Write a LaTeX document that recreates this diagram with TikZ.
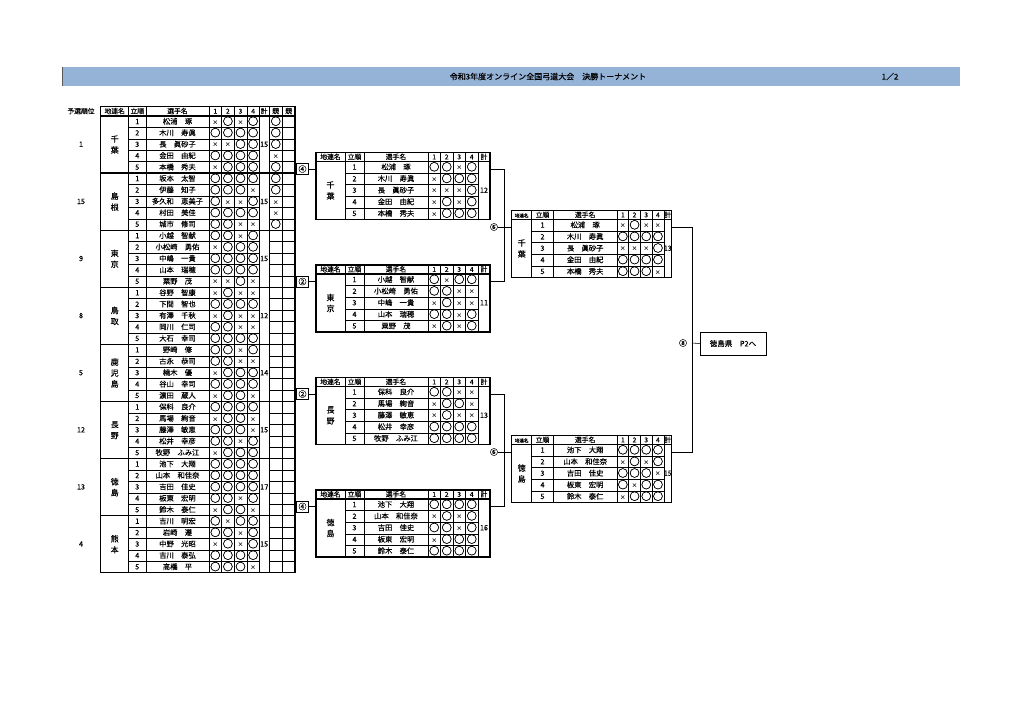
\documentclass[tikz,border=0pt]{standalone}
\usepackage{fontspec}
\setmainfont{Noto Sans CJK JP}[FakeBold=0.25]
\newfontfamily\markfont{Noto Sans CJK JP}[FakeBold=2]
\newfontfamily\latinfont{Liberation Sans}
\definecolor{barblue}{HTML}{95B3D7}
\newcommand\mx{{\latinfont\fontsize{8.5}{8}\selectfont ×}}
\newcommand\mo{{\markfont ○}}
\tikzset{
  thinl/.style={line width=0.5pt},
  midl/.style={line width=0.9pt},
  thickl/.style={line width=1.3pt},
  conn/.style={line width=0.6pt},
  txt/.style={inner sep=0pt, font=\fontsize{7.3}{8}\selectfont, text height=5.9pt, text depth=1.2pt},
  hdr/.style={inner sep=0pt, font=\fontsize{6.8}{8}\selectfont, text height=5.6pt, text depth=1.1pt},
  mk/.style={inner sep=0pt, font=\fontsize{10.3}{10}\selectfont, text height=7.9pt, text depth=1.1pt},
  team/.style={inner sep=0pt, align=center, font=\fontsize{8}{11}\selectfont},
  numbox/.style={draw, line width=0.6pt, minimum width=11.6pt, minimum height=11pt, inner sep=0pt, font=\fontsize{8}{8}\selectfont},
  numlbl/.style={inner sep=0pt, font=\fontsize{8}{8}\selectfont},
  finbox/.style={draw, line width=0.7pt, minimum width=66pt, minimum height=23pt, inner sep=0pt, font=\fontsize{7.5}{8}\selectfont},
  titlef/.style={inner sep=0pt, font=\fontsize{8}{9}\selectfont},
}
% ---------- left (preliminary) table ----------
\newcommand\Lteam[4]{%
  \pgfmathsetmacro\yc{116+57.1*#1+28.55}%
  \node[txt] (L#1-rank) at (81,\yc) {#2};
  \node[team] (L#1-team) at (114.7,\yc) {#3};
  \node[txt] (L#1-total) at (264.2,\yc) {#4};
}
\newcommand\Lrow[9]{%
  \pgfmathsetmacro\yc{116+57.1*#1+11.42*(#2-0.5)}%
  \node[txt] (L#1-#2-o) at (137.3,\yc) {#2};
  \node[txt] (L#1-#2-n) at (177.5,\yc) {#3};
  \node[mk] (L#1-#2-a) at (215.3,\yc) {#4};
  \node[mk] (L#1-#2-b) at (227.9,\yc) {#5};
  \node[mk] (L#1-#2-c) at (240.5,\yc) {#6};
  \node[mk] (L#1-#2-d) at (253.1,\yc) {#7};
  \node[mk] (L#1-#2-e) at (275.75,\yc) {#8};
  \node[mk] (L#1-#2-f) at (288.75,\yc) {#9};
}
% ---------- small result tables ----------
\newcommand\Scols[6]{\def\cA{#1}\def\cB{#2}\def\cC{#3}\def\cD{#4}\def\cW{#5}\def\cE{#6}}
\newcommand\Stable[5]{%
  \pgfmathsetmacro\ya{#2}\pgfmathsetmacro\yh{#2+9}\pgfmathsetmacro\yb{#2+67}%
  \pgfmathsetmacro\sa{\cD+\cW}\pgfmathsetmacro\sb{\cD+2*\cW}%
  \pgfmathsetmacro\sc{\cD+3*\cW}\pgfmathsetmacro\sd{\cD+4*\cW}%
  \foreach \r in {1,...,4}{\pgfmathsetmacro\yy{#2+9+11.6*\r}\draw[thinl] (\cB,\yy) -- (\sd,\yy);}
  \foreach \xx in {\cB,\cC,\sa,\sb,\sc,\sd}{\draw[thinl] (\xx,\ya) -- (\xx,\yb);}
  \draw[midl] (\cD,\ya) -- (\cD,\yb);
  \draw[thickl] (\cA,\yh) -- (\cE,\yh);
  \draw[thickl] (\cA,\ya) rectangle (\cE,\yb);
  \pgfmathsetmacro\yc{#2+4.6}%
  \node[hdr, font=\fontsize{#5}{8}\selectfont] (#1-h0) at ({(\cA+\cB)/2},\yc) {地連名};
  \node[hdr] (#1-h1) at ({(\cB+\cC)/2},\yc) {立順};
  \node[hdr] (#1-h2) at ({(\cC+\cD)/2},\yc) {選手名};
  \node[hdr] (#1-h3) at ({\cD+0.5*\cW},\yc) {1};
  \node[hdr] (#1-h4) at ({\cD+1.5*\cW},\yc) {2};
  \node[hdr] (#1-h5) at ({\cD+2.5*\cW},\yc) {3};
  \node[hdr] (#1-h6) at ({\cD+3.5*\cW},\yc) {4};
  \node[hdr] (#1-h7) at ({(\sd+\cE)/2},\yc) {計};
  \pgfmathsetmacro\ym{#2+9+29}%
  \node[team] (#1-team) at ({(\cA+\cB)/2},\ym) {#3};
  \node[txt] (#1-total) at ({(\sd+\cE)/2},\ym) {#4};
  \coordinate (#1-in) at (\cA,#2+16.5);
  \coordinate (#1-out) at (\cE,#2+16.5);
}
\newcommand\Srow[8]{%
  \pgfmathsetmacro\yc{#2+9+11.6*(#3-0.5)}%
  \node[txt] (#1-#3-o) at ({(\cB+\cC)/2},\yc) {#3};
  \node[txt] (#1-#3-n) at ({(\cC+\cD)/2},\yc) {#4};
  \node[mk] (#1-#3-a) at ({\cD+0.5*\cW},\yc) {#5};
  \node[mk] (#1-#3-b) at ({\cD+1.5*\cW},\yc) {#6};
  \node[mk] (#1-#3-c) at ({\cD+2.5*\cW},\yc) {#7};
  \node[mk] (#1-#3-d) at ({\cD+3.5*\cW},\yc) {#8};
}
\begin{document}
\begin{tikzpicture}[x=1pt,y=-1pt]
\useasboundingbox (0,0) rectangle (1024,724);
\fill[white] (0,0) rectangle (1024,724);
% title bar
\fill[barblue] (62,67) rectangle (960,86);
\draw[gray!70!black, line width=0.8pt] (62,67) -- (62,86);
\node[titlef] (title) at (548,76.5) {令和3年度オンライン全国弓道大会　決勝トーナメント};
\node[titlef] (page) at (890,76.5) {1／2};

% ===== left table grid =====
\foreach \k in {0,...,7}{
  \foreach \r in {1,...,4}{
    \pgfmathsetmacro\yy{116+57.1*\k+11.42*\r}
    \draw[thinl] (128.7,\yy) -- (259.4,\yy);
    \draw[thinl] (269,\yy) -- (295,\yy);
  }
}
\foreach \xx in {128.7,146,221.6,234.2,246.8,259.4,269,282.5}
  \draw[thinl] (\xx,106.7) -- (\xx,572.7);
\draw[midl] (209,106.7) -- (209,572.7);
\foreach \k in {1,...,7}{\pgfmathsetmacro\yy{116+57.1*\k}\draw[thickl] (100.7,\yy) -- (295,\yy);}
\draw[thickl] (100.7,116) -- (295,116);
\draw[thickl] (100.7,106.7) rectangle (295,572.7);
\node[hdr] (Lh-rank) at (81,111.4) {予選順位};
\node[hdr] (Lh-0) at (114.7,111.4) {地連名};
\node[hdr] (Lh-1) at (137.3,111.4) {立順};
\node[hdr] (Lh-2) at (177.5,111.4) {選手名};
\node[hdr] (Lh-3) at (215.3,111.4) {1};
\node[hdr] (Lh-4) at (227.9,111.4) {2};
\node[hdr] (Lh-5) at (240.5,111.4) {3};
\node[hdr] (Lh-6) at (253.1,111.4) {4};
\node[hdr] (Lh-7) at (264.2,111.4) {計};
\node[hdr] (Lh-8) at (275.75,111.4) {競};
\node[hdr] (Lh-9) at (288.75,111.4) {競};

% Chiba
\Lteam{0}{1}{千\\葉}{15}
\Lrow{0}{1}{松浦　琢}{\mx}{\mo}{\mx}{\mo}{\mo}{}
\Lrow{0}{2}{木川　寿眞}{\mo}{\mo}{\mo}{\mo}{\mo}{}
\Lrow{0}{3}{長　眞砂子}{\mx}{\mx}{\mo}{\mo}{\mo}{}
\Lrow{0}{4}{金田　由紀}{\mo}{\mo}{\mo}{\mo}{\mx}{}
\Lrow{0}{5}{本橋　秀夫}{\mx}{\mo}{\mo}{\mo}{\mo}{}
% Shimane
\Lteam{1}{15}{島\\根}{15}
\Lrow{1}{1}{坂本　太智}{\mo}{\mo}{\mo}{\mo}{\mo}{}
\Lrow{1}{2}{伊藤　知子}{\mo}{\mo}{\mo}{\mx}{\mo}{}
\Lrow{1}{3}{多久和　恵美子}{\mo}{\mx}{\mx}{\mo}{\mx}{}
\Lrow{1}{4}{村田　美佳}{\mo}{\mo}{\mo}{\mo}{\mx}{}
\Lrow{1}{5}{城市　修司}{\mo}{\mo}{\mx}{\mx}{\mo}{}
% Tokyo
\Lteam{2}{9}{東\\京}{15}
\Lrow{2}{1}{小越　智献}{\mo}{\mo}{\mx}{\mo}{}{}
\Lrow{2}{2}{小松崎　勇佑}{\mx}{\mo}{\mo}{\mo}{}{}
\Lrow{2}{3}{中嶋　一貴}{\mo}{\mo}{\mo}{\mo}{}{}
\Lrow{2}{4}{山本　瑞穂}{\mo}{\mo}{\mo}{\mo}{}{}
\Lrow{2}{5}{粟野　茂}{\mx}{\mx}{\mo}{\mx}{}{}
% Tottori
\Lteam{3}{8}{鳥\\取}{12}
\Lrow{3}{1}{谷野　智康}{\mx}{\mo}{\mx}{\mx}{}{}
\Lrow{3}{2}{下間　智也}{\mo}{\mo}{\mo}{\mo}{}{}
\Lrow{3}{3}{有澤　千秋}{\mx}{\mo}{\mx}{\mx}{}{}
\Lrow{3}{4}{岡川　仁司}{\mo}{\mo}{\mx}{\mx}{}{}
\Lrow{3}{5}{大石　幸司}{\mo}{\mo}{\mo}{\mo}{}{}
% Kagoshima
\Lteam{4}{5}{鹿\\児\\島}{14}
\Lrow{4}{1}{野崎　修}{\mo}{\mo}{\mx}{\mo}{}{}
\Lrow{4}{2}{古永　恭司}{\mo}{\mo}{\mx}{\mx}{}{}
\Lrow{4}{3}{楠木　優}{\mx}{\mo}{\mo}{\mo}{}{}
\Lrow{4}{4}{谷山　幸司}{\mo}{\mo}{\mo}{\mo}{}{}
\Lrow{4}{5}{濵田　蔵人}{\mx}{\mo}{\mo}{\mx}{}{}
% Nagano
\Lteam{5}{12}{長\\野}{15}
\Lrow{5}{1}{保科　良介}{\mo}{\mo}{\mo}{\mo}{}{}
\Lrow{5}{2}{馬場　絢音}{\mx}{\mo}{\mo}{\mx}{}{}
\Lrow{5}{3}{藤澤　敏恵}{\mo}{\mo}{\mo}{\mx}{}{}
\Lrow{5}{4}{松井　幸彦}{\mo}{\mo}{\mx}{\mo}{}{}
\Lrow{5}{5}{牧野　ふみ江}{\mx}{\mo}{\mo}{\mo}{}{}
% Tokushima
\Lteam{6}{13}{徳\\島}{17}
\Lrow{6}{1}{池下　大翔}{\mo}{\mo}{\mo}{\mo}{}{}
\Lrow{6}{2}{山本　和佳奈}{\mo}{\mo}{\mo}{\mo}{}{}
\Lrow{6}{3}{吉田　佳史}{\mo}{\mo}{\mo}{\mo}{}{}
\Lrow{6}{4}{板東　宏明}{\mo}{\mo}{\mx}{\mo}{}{}
\Lrow{6}{5}{鈴木　泰仁}{\mx}{\mo}{\mo}{\mx}{}{}
% Kumamoto
\Lteam{7}{4}{熊\\本}{15}
\Lrow{7}{1}{吉川　明宏}{\mo}{\mx}{\mo}{\mo}{}{}
\Lrow{7}{2}{岩崎　遵}{\mo}{\mo}{\mx}{\mo}{}{}
\Lrow{7}{3}{中野　光昭}{\mx}{\mo}{\mx}{\mo}{}{}
\Lrow{7}{4}{吉川　泰弘}{\mo}{\mo}{\mo}{\mo}{}{}
\Lrow{7}{5}{高橋　平}{\mo}{\mo}{\mo}{\mx}{}{}

% ===== second round tables =====
\Scols{316}{345}{364}{428}{12.5}{490}
\Stable{MA}{152.5}{千\\葉}{12}{6.8}
\Srow{MA}{152.5}{1}{松浦　琢}{\mo}{\mo}{\mx}{\mo}
\Srow{MA}{152.5}{2}{木川　寿眞}{\mx}{\mo}{\mo}{\mo}
\Srow{MA}{152.5}{3}{長　眞砂子}{\mx}{\mx}{\mx}{\mo}
\Srow{MA}{152.5}{4}{金田　由紀}{\mx}{\mo}{\mx}{\mo}
\Srow{MA}{152.5}{5}{本橋　秀夫}{\mx}{\mo}{\mo}{\mo}
\Stable{MB}{265}{東\\京}{11}{6.8}
\Srow{MB}{265}{1}{小越　智献}{\mo}{\mx}{\mo}{\mo}
\Srow{MB}{265}{2}{小松崎　勇佑}{\mo}{\mo}{\mx}{\mx}
\Srow{MB}{265}{3}{中嶋　一貴}{\mx}{\mo}{\mx}{\mx}
\Srow{MB}{265}{4}{山本　瑞穂}{\mo}{\mo}{\mx}{\mo}
\Srow{MB}{265}{5}{粟野　茂}{\mx}{\mo}{\mx}{\mo}
\Stable{MC}{377.5}{長\\野}{13}{6.8}
\Srow{MC}{377.5}{1}{保科　良介}{\mo}{\mo}{\mx}{\mx}
\Srow{MC}{377.5}{2}{馬場　絢音}{\mx}{\mo}{\mo}{\mx}
\Srow{MC}{377.5}{3}{藤澤　敏恵}{\mx}{\mo}{\mx}{\mx}
\Srow{MC}{377.5}{4}{松井　幸彦}{\mo}{\mo}{\mo}{\mo}
\Srow{MC}{377.5}{5}{牧野　ふみ江}{\mo}{\mo}{\mo}{\mo}
\Stable{MD}{490}{徳\\島}{16}{6.8}
\Srow{MD}{490}{1}{池下　大翔}{\mo}{\mo}{\mo}{\mo}
\Srow{MD}{490}{2}{山本　和佳奈}{\mx}{\mo}{\mx}{\mo}
\Srow{MD}{490}{3}{吉田　佳史}{\mo}{\mo}{\mx}{\mo}
\Srow{MD}{490}{4}{板東　宏明}{\mx}{\mo}{\mo}{\mo}
\Srow{MD}{490}{5}{鈴木　泰仁}{\mo}{\mo}{\mo}{\mo}

% ===== semifinal tables =====
\Scols{511.7}{531.7}{553.3}{617}{11.7}{671.8}
\Stable{RA}{210.5}{千\\葉}{13}{4.6}
\Srow{RA}{210.5}{1}{松浦　琢}{\mx}{\mo}{\mx}{\mx}
\Srow{RA}{210.5}{2}{木川　寿眞}{\mo}{\mo}{\mo}{\mo}
\Srow{RA}{210.5}{3}{長　眞砂子}{\mx}{\mx}{\mx}{\mo}
\Srow{RA}{210.5}{4}{金田　由紀}{\mo}{\mo}{\mo}{\mo}
\Srow{RA}{210.5}{5}{本橋　秀夫}{\mo}{\mo}{\mo}{\mx}
\Stable{RB}{435.5}{徳\\島}{15}{4.6}
\Srow{RB}{435.5}{1}{池下　大翔}{\mo}{\mo}{\mo}{\mo}
\Srow{RB}{435.5}{2}{山本　和佳奈}{\mx}{\mo}{\mx}{\mo}
\Srow{RB}{435.5}{3}{吉田　佳史}{\mo}{\mo}{\mo}{\mx}
\Srow{RB}{435.5}{4}{板東　宏明}{\mo}{\mx}{\mo}{\mo}
\Srow{RB}{435.5}{5}{鈴木　泰仁}{\mx}{\mo}{\mo}{\mo}

% ===== connectors: first round =====
\coordinate (LoA) at (295,169);
\coordinate (LoB) at (295,281.5);
\coordinate (LoC) at (295,394);
\coordinate (LoD) at (295,506.5);
\node[numbox] (m1) at (302.5,169) {④};
\node[numbox] (m2) at (302.5,281.5) {②};
\node[numbox] (m3) at (302.5,394) {②};
\node[numbox] (m4) at (302.5,506.5) {④};
\draw[conn] (LoA) -- (m1.west);
\draw[conn] (LoB) -- (m2.west);
\draw[conn] (LoC) -- (m3.west);
\draw[conn] (LoD) -- (m4.west);
\draw[conn] (m1.east) -- (MA-in);
\draw[conn] (m2.east) -- (MB-in);
\draw[conn] (m3.east) -- (MC-in);
\draw[conn] (m4.east) -- (MD-in);

% ===== connectors: second round =====
\draw[conn] (MA-out) -- ++(14,0) |- (MB-out);
\draw[conn] (MC-out) -- ++(14,0) |- (MD-out);
\node[numlbl] (m5) at (494,227) {⑥};
\node[numlbl] (m6) at (494,452) {⑥};
\draw[conn] (m5.east) -- (RA-in);
\draw[conn] (m6.east) -- (RB-in);

% ===== connectors: final =====
\draw[conn] (RA-out) -- ++(20.2,0) |- (RB-out);
\node[numlbl] (m7) at (683,343) {⑧};
\coordinate (j8) at (692,343);
\node[finbox] (fin) at (733,343.5) {徳島県　P2へ};
\draw[conn] (j8) -- (fin.west);
\end{tikzpicture}
\end{document}
